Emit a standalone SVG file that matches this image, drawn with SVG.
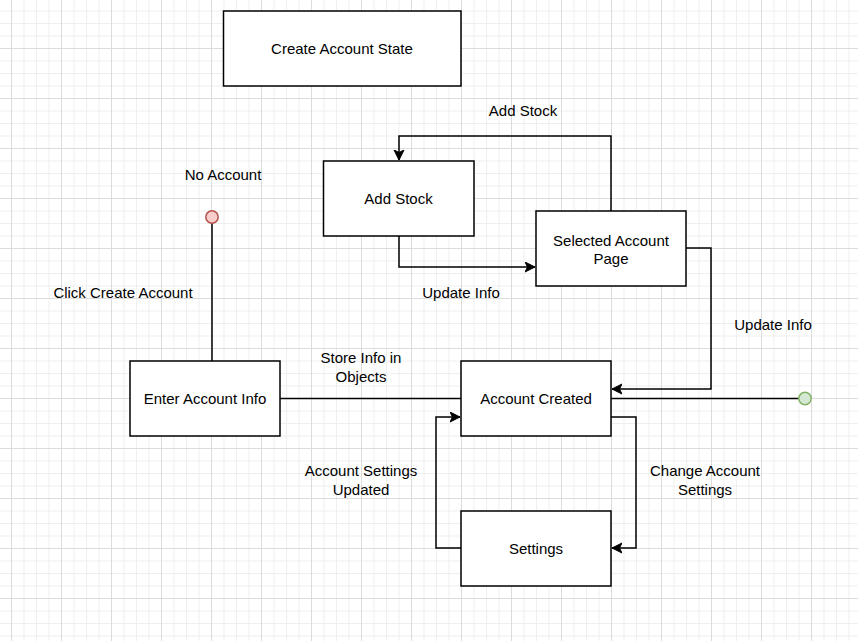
<svg xmlns="http://www.w3.org/2000/svg" width="858" height="641" viewBox="0 0 858 641">
<style>
.box{fill:#fff;stroke:#000;stroke-width:1.5}
.edge{fill:none;stroke:#000;stroke-width:1.5}
text{font-family:"Liberation Sans",Arial,sans-serif;font-size:15px;fill:#000;text-anchor:middle}
</style>
<defs>
<pattern id="grid" patternUnits="userSpaceOnUse" x="11" y="48" width="50" height="50">
<path d="M13 0V50M25.5 0V50M38 0V50M0 13H50M0 25.5H50M0 38H50" stroke="#efefef" stroke-width="1" fill="none"/>
<path d="M0.5 0V50M0 0.5H50" stroke="#dcdcdc" stroke-width="1" fill="none"/>
</pattern>
<marker id="arr" markerUnits="userSpaceOnUse" markerWidth="12" markerHeight="12" refX="10" refY="5.5" orient="auto">
<path d="M0,0.5 L10,5.5 L0,10.5 L2.5,5.5 Z" fill="#000" stroke="#000" stroke-width="1"/>
</marker>
</defs>
<rect width="858" height="641" fill="#fff"/>
<rect width="858" height="641" fill="url(#grid)"/>
<g id="connectors">
<path class="edge" d="M212 223V361"/>
<path class="edge" d="M280 398.5H461"/>
<path class="edge" d="M399 236V267H535" marker-end="url(#arr)"/>
<path class="edge" d="M611 211V136H399V160" marker-end="url(#arr)"/>
<path class="edge" d="M686 248H711V389H612" marker-end="url(#arr)"/>
<path class="edge" d="M611 398.5H798.5"/>
<path class="edge" d="M611 417H636V548H612" marker-end="url(#arr)"/>
<path class="edge" d="M461 548H436V417H460" marker-end="url(#arr)"/>
<text x="223" y="180">No Account</text>
<text x="123" y="298">Click Create Account</text>
<text x="361" y="363">Store Info in</text>
<text x="361" y="382">Objects</text>
<text x="523" y="116">Add Stock</text>
<text x="461" y="298">Update Info</text>
<text x="773" y="330">Update Info</text>
<text x="361" y="476">Account Settings</text>
<text x="361" y="495">Updated</text>
<text x="705" y="476">Change Account</text>
<text x="705" y="495">Settings</text>
</g>
<g id="start">
<circle cx="212" cy="217" r="6.2" fill="#f8cecc" stroke="#b85450" stroke-width="1.5"/>
</g>
<g id="end">
<circle cx="805" cy="398.5" r="6.2" fill="#d5e8d4" stroke="#82b366" stroke-width="1.5"/>
</g>
<g id="create-account-state">
<rect class="box" x="223.5" y="11" width="237.5" height="75"/>
<text x="342" y="54">Create Account State</text>
</g>
<g id="add-stock">
<rect class="box" x="323.5" y="161" width="150.5" height="75"/>
<text x="398.5" y="204">Add Stock</text>
</g>
<g id="selected-account-page">
<rect class="box" x="536" y="211" width="150" height="75"/>
<text x="611" y="246">Selected Account</text>
<text x="611" y="264">Page</text>
</g>
<g id="enter-account-info">
<rect class="box" x="130" y="361" width="150" height="75"/>
<text x="205" y="404">Enter Account Info</text>
</g>
<g id="account-created">
<rect class="box" x="461" y="361" width="150" height="75"/>
<text x="536" y="404">Account Created</text>
</g>
<g id="settings">
<rect class="box" x="461" y="511" width="150" height="75"/>
<text x="536" y="554">Settings</text>
</g>
</svg>
